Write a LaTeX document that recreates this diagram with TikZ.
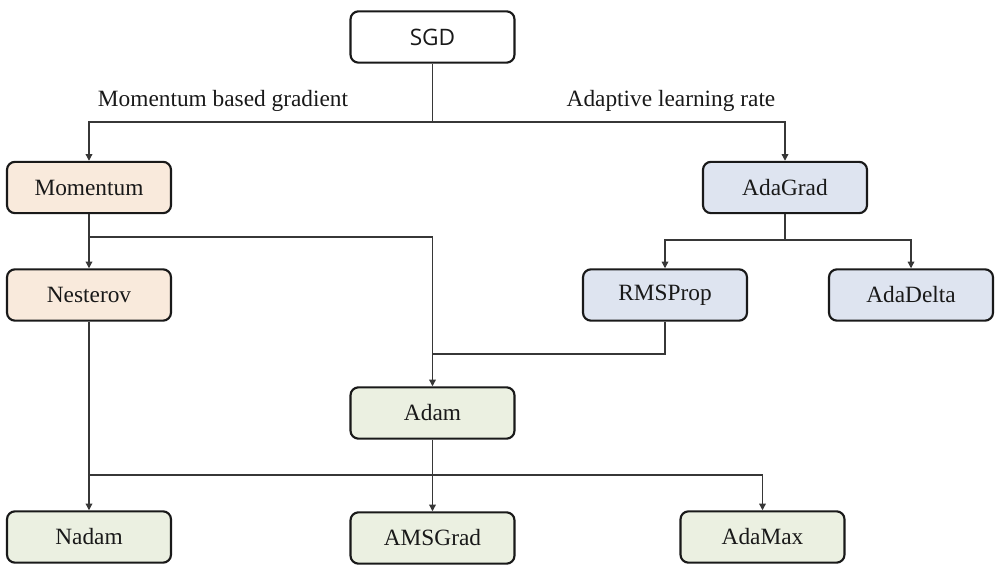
\documentclass[tikz,border=0pt]{standalone}
\usepackage{fontspec}
\setmainfont{Liberation Serif}
\newfontfamily\sgdfont{Open Sans}
\usetikzlibrary{arrows.meta}
\definecolor{peach}{RGB}{249,234,220}
\definecolor{bluegrey}{RGB}{222,228,240}
\definecolor{palegreen}{RGB}{235,240,225}
\definecolor{ink}{RGB}{25,25,25}
\definecolor{wire}{RGB}{55,55,55}
\tikzset{
  algbox/.style={draw=ink, line width=1.6pt, rounded corners=6pt, minimum width=123pt, minimum height=38.5pt, inner sep=0pt, text=ink, font=\fontsize{17.5}{20}\selectfont},
  momfill/.style={algbox, fill=peach},
  adafill/.style={algbox, fill=bluegrey},
  mixfill/.style={algbox, fill=palegreen},
  wireline/.style={draw=wire, line width=0.9pt},
  arr/.style={wireline, -{Triangle[length=5pt,width=5pt]}},
  lbl/.style={text=ink, font=\fontsize{17.5}{20}\selectfont, inner sep=0pt}
}
\begin{document}
\begin{tikzpicture}[x=0.75pt,y=-0.75pt]
\useasboundingbox (0,0) rectangle (1000,570);
\node[algbox, fill=white, font=\sgdfont\fontsize{17}{20}\selectfont] (sgd) at (432.5,37) {SGD};
\node[momfill] (mom) at (89,187.5) {Momentum};
\node[momfill] (nes) at (89,295) {Nesterov};
\node[adafill] (adagrad) at (785,187.5) {AdaGrad};
\node[adafill] (rms) at (665,295) {RMSProp};
\node[adafill] (adadelta) at (911,295) {AdaDelta};
\node[mixfill] (adam) at (432.5,413) {Adam};
\node[mixfill] (nadam) at (89,537) {Nadam};
\node[mixfill] (amsgrad) at (432.5,538) {AMSGrad};
\node[mixfill] (adamax) at (762.5,537) {AdaMax};
\node[lbl] (l1) at (223,101) {Momentum based gradient};
\node[lbl] (l2) at (671,101) {Adaptive learning rate};
\coordinate (b1) at (432.5,122);
\coordinate (j2) at (89,237);
\coordinate (j3) at (785,240);
\coordinate (j4) at (432.5,354);
\coordinate (j5) at (89,475);
\draw[wireline] (sgd.south) -- (b1);
\draw[arr] (b1) -| (mom.north);
\draw[arr] (b1) -| (adagrad.north);
\draw[arr] (mom) -- (nes);
\draw[arr] (j2) -| (adam.north);
\draw[wireline] (adagrad.south) -- (j3);
\draw[arr] (j3) -| (rms.north);
\draw[arr] (j3) -| (adadelta.north);
\draw[wireline] (rms.south) |- (j4);
\draw[wireline] (nes.south) -- (j5);
\draw[arr] (j5) -- (nadam.north);
\draw[arr] (j5) -| (adamax.north);
\draw[arr] (adam) -- (amsgrad);
\end{tikzpicture}
\end{document}
